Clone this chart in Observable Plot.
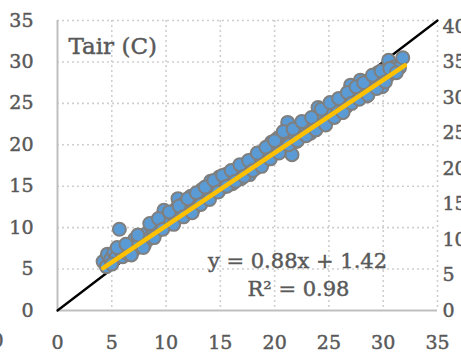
<!DOCTYPE html>
<html><head><meta charset="utf-8">
<script src="https://cdn.jsdelivr.net/npm/d3@7"></script>
<script src="https://cdn.jsdelivr.net/npm/@observablehq/plot@0.6"></script>
<style>html,body{margin:0;padding:0;background:#fff;overflow:hidden}
svg text{stroke:#595959;stroke-width:0.45px;}</style>
</head><body><div id="chart"></div>
<script>
// observed (x) vs simulated (y) air temperature, °C
const points = [
[4.2,5.9],[4.5,5.3],[4.6,6.8],[4.9,6.2],[5.2,7.0],[5.4,6.4],[5.7,9.8],[5.8,7.2],[6.0,6.5],[6.2,7.4],
[6.4,6.9],[6.7,7.8],[6.9,7.1],[7.1,8.6],[7.3,7.6],[7.5,8.2],[7.8,9.0],[8.0,7.9],[8.2,9.3],[8.4,8.6],
[8.6,10.2],[8.8,9.1],[9.0,10.6],[9.2,9.6],[9.4,10.1],[9.6,11.0],[9.8,12.1],[10.0,10.4],[10.2,11.3],[10.4,10.8],
[10.6,11.9],[10.8,11.2],[11.0,12.4],[11.1,13.5],[11.3,11.6],[11.5,12.8],[11.7,12.1],[11.9,13.2],[12.1,12.6],[12.3,13.8],
[12.5,12.2],[12.7,13.4],[12.9,14.1],[13.1,13.0],[13.3,14.6],[13.5,13.6],[13.7,14.3],[13.9,15.0],[14.1,15.6],[14.3,14.4],
[14.5,15.2],[14.7,14.8],[14.9,16.1],[15.1,15.5],[15.3,14.9],[15.5,16.4],[15.7,15.8],[15.9,16.7],[16.1,15.3],[16.3,16.2],
[16.5,17.0],[16.7,16.5],[16.9,15.9],[17.1,17.4],[17.3,16.8],[17.5,17.9],[17.7,16.4],[17.9,17.6],[18.1,18.3],[18.3,17.2],
[18.5,18.8],[18.7,17.7],[18.9,19.2],[19.1,18.1],[19.3,18.7],[19.5,19.6],[19.7,20.3],[19.9,18.9],[20.1,19.7],[20.3,20.8],
[20.5,19.4],[20.7,21.2],[20.9,20.1],[21.1,21.8],[21.2,22.7],[21.4,20.6],[21.6,18.8],[21.8,21.4],[22.0,20.4],[22.2,21.9],
[22.4,21.0],[22.7,22.7],[22.9,21.6],[23.1,22.3],[23.3,21.4],[23.5,23.0],[23.7,22.1],[24.0,24.5],[24.2,22.8],[24.4,23.6],
[24.6,22.6],[24.8,24.1],[25.0,23.2],[25.2,24.7],[25.4,23.8],[25.6,25.0],[25.8,24.2],[26.0,25.5],[26.2,23.9],[26.4,25.1],
[26.6,24.6],[26.8,26.2],[27.0,27.2],[27.2,25.3],[27.4,26.5],[27.6,25.8],[27.9,27.8],[28.1,26.4],[28.3,27.1],[28.5,25.9],
[28.7,27.6],[28.9,26.8],[29.1,28.2],[29.3,27.3],[29.5,28.7],[29.7,27.9],[29.9,27.0],[30.1,28.9],[30.3,28.1],[30.5,30.2],
[30.7,28.6],[31.0,29.4],[31.5,29.3],[31.8,30.5],
[5.0,5.6],[5.5,7.6],[6.3,8.0],[6.8,6.7],[7.4,9.1],[7.9,7.6],[8.5,10.5],[8.9,8.8],[9.3,11.1],[9.7,9.8],
[10.3,11.9],[10.7,10.4],[11.2,12.6],[11.6,11.3],[12.0,13.5],[12.4,11.8],[12.8,14.2],[13.2,12.8],[13.6,14.9],[14.0,13.4],
[14.4,15.7],[14.8,14.3],[15.2,16.3],[15.6,15.0],[16.0,16.9],[16.4,15.6],[16.8,17.6],[17.2,16.2],[17.6,18.1],[18.0,16.9],
[18.4,19.0],[18.8,17.4],[19.2,19.7],[19.6,18.3],[20.0,20.5],[20.4,19.0],[20.8,21.6],[21.3,20.0],[21.7,21.9],[22.1,20.5],
[22.5,22.8],[22.9,21.1],[23.4,23.3],[23.8,21.8],[24.3,24.3],[24.7,22.4],[25.1,25.1],[25.5,23.3],[25.9,25.6],[26.3,23.9],
[26.7,26.3],[27.1,25.0],[27.5,27.0],[27.8,25.5],[28.2,27.5],[28.6,26.0],[29.0,28.4],[29.4,26.8],[29.8,28.9],[30.2,27.6],
[30.6,29.2],[31.2,28.7]
];
const xTicks = [0,5,10,15,20,25,30,35];
const yTicks = [0,5,10,15,20,25,30,35];
const rightTicks = [0,5,10,15,20,25,30,35,40];
const slope = 0.88, intercept = 1.42;
const trendX = [4.2, 32];
const oneToOne = [0, 35];
const title = "Tair (C)";
const eqLines = ["y = 0.88x + 1.42", "R\u00B2 = 0.98"];

const txt = "#595959";
const font = "DejaVu Serif";
const rightFactor = 35 / 40 * (284 / 290); // right axis scale relative to left

const plot = Plot.plot({
  width: 461, height: 354,
  marginLeft: 57, marginRight: 24, marginTop: 20, marginBottom: 44,
  x: {domain: [0, 35]},
  y: {domain: [0, 35]},
  style: {fontFamily: font, fontSize: "19px", color: txt, background: "#fff", overflow: "visible"},
  marks: [
    Plot.gridX(xTicks.slice(1), {stroke: "#cfcfcf", strokeOpacity: 1, strokeWidth: 1.6, strokeDasharray: "2,3"}),
    Plot.gridY(yTicks.slice(1), {stroke: "#cfcfcf", strokeOpacity: 1, strokeWidth: 1.6, strokeDasharray: "2,3"}),
    Plot.ruleX([0], {stroke: "#bfbfbf", strokeWidth: 2}),
    Plot.ruleY([0], {stroke: "#bfbfbf", strokeWidth: 2}),
    Plot.axisX(xTicks, {tickSize: 0, tickPadding: 25, label: null, fill: txt, fontSize: 19}),
    Plot.axisY(yTicks, {anchor: "left", tickSize: 0, tickPadding: 24, label: null, fill: txt, fontSize: 19}),
    Plot.axisY(rightTicks.map(r => r * rightFactor), {anchor: "right", tickSize: 0, tickPadding: 5, label: null, fill: txt, fontSize: 19, textAnchor: "start",
      tickFormat: d => String(Math.round(d / rightFactor))}),
    Plot.line(oneToOne.map(v => ({x: v, y: v})), {x: "x", y: "y", stroke: "#000", strokeWidth: 2.3}),
    Plot.dot(points, {x: d => d[0], y: d => d[1], r: 6.5, fill: "#5B9BD5", stroke: "#7F7F7F", strokeWidth: 2, fillOpacity: 1}),
    Plot.line(trendX.map(v => ({x: v, y: slope * v + intercept})), {x: "x", y: "y", stroke: "#FFC000", strokeWidth: 4.5}),
    Plot.text([title], {frameAnchor: "top-left", dx: 11, dy: 17, textAnchor: "start", fontSize: 23, fill: txt}),
    Plot.text([eqLines[0]], {frameAnchor: "bottom-left", dx: 240, dy: -43, textAnchor: "middle", fontSize: 21, fill: txt}),
    Plot.text([eqLines[1]], {frameAnchor: "bottom-left", dx: 241, dy: -15, textAnchor: "middle", fontSize: 21, fill: txt}),
    Plot.text(["0"], {frameAnchor: "bottom-left", dx: -60, dy: 36, textAnchor: "middle", fontSize: 19, fill: txt})
  ]
});
document.getElementById("chart").appendChild(plot);
</script>
</body></html>
